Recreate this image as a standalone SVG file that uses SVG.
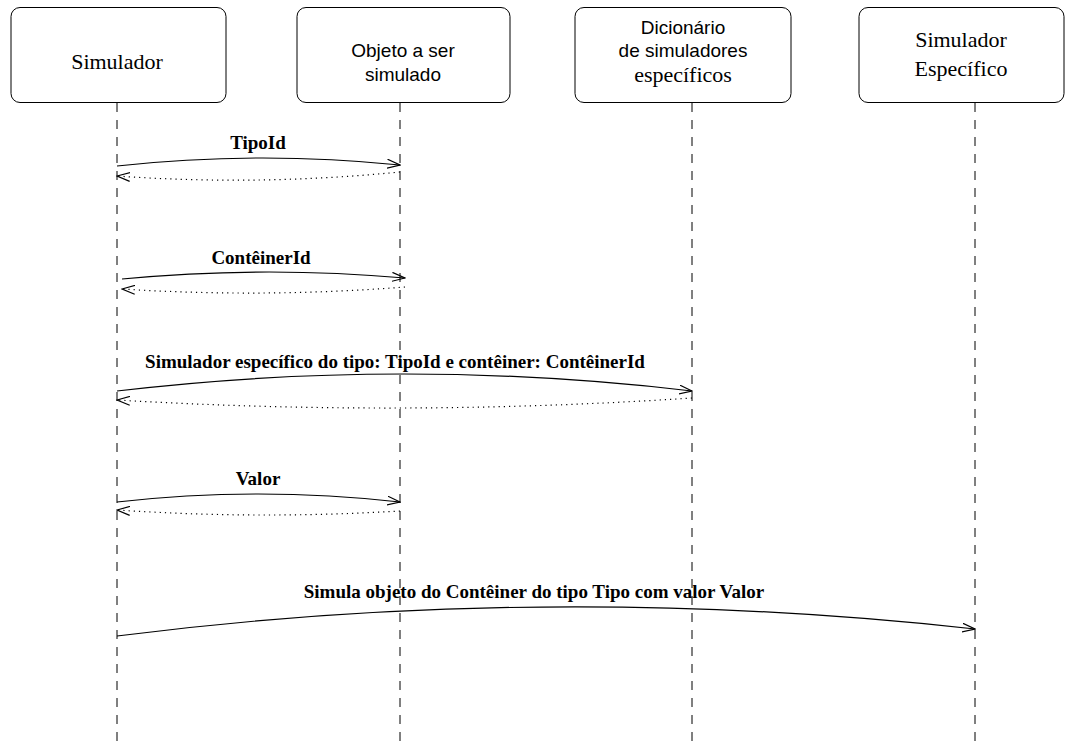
<svg xmlns="http://www.w3.org/2000/svg" width="1065" height="741" viewBox="0 0 1065 741">
<style>
.box{fill:#fff;stroke:#000;stroke-width:1}
.serif{font-family:"Liberation Serif","Times New Roman",serif;font-size:22px;fill:#000}
.sans{font-family:"Liberation Sans",Arial,sans-serif;font-size:19px;fill:#000}
.lbl{font-family:"Liberation Serif","Times New Roman",serif;font-size:19px;font-weight:bold;fill:#000}
.life{stroke:#000;stroke-width:1;stroke-dasharray:9 8;fill:none}
.msg{stroke:#000;stroke-width:1.2;fill:none;marker-end:url(#arr)}
.ret{stroke:#000;stroke-width:1.2;fill:none;stroke-dasharray:1.2 4;marker-end:url(#arr)}
</style>
<defs>
<marker id="arr" viewBox="0 0 14 10" refX="13" refY="5" markerWidth="14" markerHeight="10" markerUnits="userSpaceOnUse" orient="auto">
<polyline points="0,0.5 13,5 0,9.5" fill="none" stroke="#000" stroke-width="1.2" stroke-dasharray="none"/>
</marker>
</defs>
<rect width="1065" height="741" fill="#fff"/>
<g id="lifelines">
<line class="life" x1="117" y1="103" x2="117" y2="741"/>
<line class="life" x1="400" y1="103" x2="400" y2="741"/>
<line class="life" x1="692" y1="103" x2="692" y2="741"/>
<line class="life" x1="975" y1="103" x2="975" y2="741"/>
</g>
<g id="node-simulador">
<rect class="box" x="11" y="7.5" width="215" height="95" rx="9"/>
<text class="serif" x="117" y="69" text-anchor="middle">Simulador</text>
</g>
<g id="node-objeto">
<rect class="box" x="297" y="7.5" width="213" height="95" rx="9"/>
<text class="sans" x="403" y="57" text-anchor="middle">Objeto a ser</text>
<text class="sans" x="403" y="81" text-anchor="middle">simulado</text>
</g>
<g id="node-dicionario">
<rect class="box" x="575" y="7.5" width="216" height="95" rx="9"/>
<text class="sans" x="683" y="34" text-anchor="middle">Dicionário</text>
<text class="sans" x="683" y="57" text-anchor="middle">de simuladores</text>
<text class="serif" x="683" y="82" text-anchor="middle">específicos</text>
</g>
<g id="node-especifico">
<rect class="box" x="859" y="7.5" width="205" height="95" rx="9"/>
<text class="serif" x="961" y="47" text-anchor="middle">Simulador</text>
<text class="serif" x="961" y="76" text-anchor="middle">Específico</text>
</g>
<g id="connectors">
<path class="msg" d="M117,166 Q258,150.5 400,165"/>
<path class="ret" d="M400,172 Q258,186 117,176"/>
<text class="lbl" x="258" y="149" text-anchor="middle">TipoId</text>
<path class="msg" d="M122,279 Q264,265.5 405,278"/>
<path class="ret" d="M405,287 Q264,298 122,289"/>
<text class="lbl" x="261" y="264" text-anchor="middle">ContêinerId</text>
<path class="msg" d="M117,391 Q404,357 692,391"/>
<path class="ret" d="M692,398 Q404,417 117,400"/>
<text class="lbl" x="395" y="368" text-anchor="middle">Simulador específico do tipo: TipoId e contêiner: ContêinerId</text>
<path class="msg" d="M117,502 Q258,486 400,502"/>
<path class="ret" d="M400,511 Q258,519.5 117,510"/>
<text class="lbl" x="258" y="485" text-anchor="middle">Valor</text>
<path class="msg" d="M117,636 Q546,581.5 975,629"/>
<text class="lbl" x="534" y="598" text-anchor="middle">Simula objeto do Contêiner do tipo Tipo com valor Valor</text>
</g>
</svg>
